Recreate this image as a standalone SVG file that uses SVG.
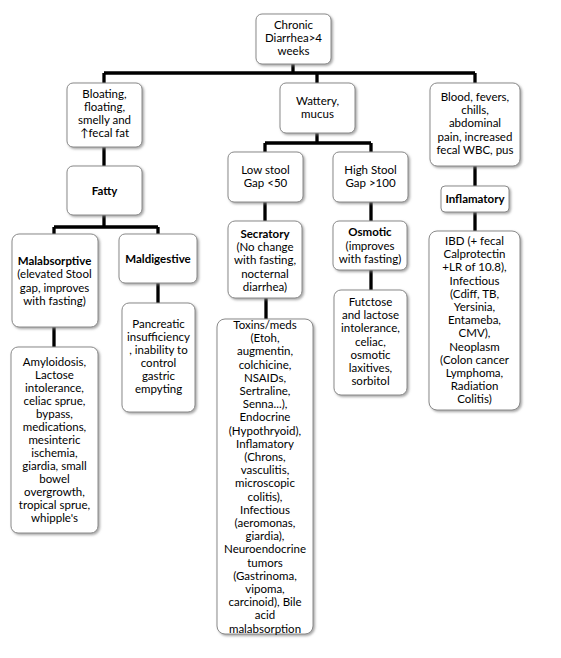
<svg xmlns="http://www.w3.org/2000/svg" width="561" height="658" viewBox="0 0 561 658">
<defs>
<filter id="sh" x="-20%" y="-20%" width="140%" height="140%">
<feDropShadow dx="1.5" dy="1.5" stdDeviation="1.2" flood-color="#808080" flood-opacity="0.7"/>
</filter>
<style>
.box{fill:#fff;stroke:#8a8a8a;stroke-width:1;filter:url(#sh)}
.t{font-family:Lato,"Open Sans","Liberation Sans",sans-serif;font-size:11.5px;fill:#000;text-anchor:middle}
.b{font-weight:bold}
.c{stroke:#000;stroke-width:3.3;fill:none}
</style>
</defs>
<rect width="561" height="658" fill="#fff"/>
<g id="connectors">
<path class="c" d="M293,64V73M104,73H475M104,73V83M317,73V83M475,73V83"/>
<path class="c" d="M104,147V166M104,215V227M54,227H158M54,227V234M158,227V234M54,327V347M158,283V303"/>
<path class="c" d="M317,133V143M265,143H371M265,143V152M371,143V152M265,202V221M266,298V319M371,202V221M371,270V290"/>
<path class="c" d="M475,166V186M475,212V231"/>
</g>
<g id="root"><rect class="box" x="256" y="14" width="75" height="50" rx="6"/>
<text class="t" x="293.5" y="29">Chronic<tspan x="293.5" dy="13">Diarrhea&gt;4</tspan><tspan x="293.5" dy="13">weeks</tspan></text></g>
<g id="bloating"><rect class="box" x="67" y="83" width="75" height="64" rx="6"/>
<text class="t" x="104.5" y="98">Bloating,<tspan x="104.5" dy="13">floating,</tspan><tspan x="104.5" dy="13">smelly and</tspan><tspan x="104.5" dy="13">↑fecal fat</tspan></text></g>
<g id="wattery"><rect class="box" x="280" y="83" width="75" height="50" rx="6"/>
<text class="t" x="317.5" y="105">Wattery,<tspan x="317.5" dy="13">mucus</tspan></text></g>
<g id="blood"><rect class="box" x="430" y="83" width="90" height="83" rx="7"/>
<text class="t" x="475" y="101">Blood, fevers,<tspan x="475" dy="13.2">chills,</tspan><tspan x="475" dy="13.2">abdominal</tspan><tspan x="475" dy="13.2">pain, increased</tspan><tspan x="475" dy="13.2">fecal WBC, pus</tspan></text></g>
<g id="fatty"><rect class="box" x="67" y="166" width="75" height="49" rx="6"/>
<text class="t b" x="104.5" y="194.5">Fatty</text></g>
<g id="lowstool"><rect class="box" x="228" y="152" width="75" height="50" rx="6"/>
<text class="t" x="265.5" y="174">Low stool<tspan x="265.5" dy="13">Gap &lt;50</tspan></text></g>
<g id="highstool"><rect class="box" x="333" y="152" width="75" height="50" rx="6"/>
<text class="t" x="370.5" y="174">High Stool<tspan x="370.5" dy="13">Gap &gt;100</tspan></text></g>
<g id="inflamatory"><rect class="box" x="441" y="186" width="68" height="26" rx="4"/>
<text class="t b" x="475" y="203">Inflamatory</text></g>
<g id="malabsorptive"><rect class="box" x="12" y="234" width="86" height="93" rx="7"/>
<text class="t" x="54.5" y="264.5"><tspan class="b">Malabsorptive</tspan><tspan x="54.5" dy="13.6">(elevated Stool</tspan><tspan x="54.5" dy="13.6">gap, improves</tspan><tspan x="54.5" dy="13.6">with fasting)</tspan></text></g>
<g id="maldigestive"><rect class="box" x="119" y="234" width="78" height="49" rx="6"/>
<text class="t b" x="158" y="263">Maldigestive</text></g>
<g id="amyloidosis"><rect class="box" x="11" y="347" width="87" height="186" rx="7"/>
<text class="t" x="54.5" y="366">Amyloidosis,<tspan x="54.5" dy="13">Lactose</tspan><tspan x="54.5" dy="13">intolerance,</tspan><tspan x="54.5" dy="13">celiac sprue,</tspan><tspan x="54.5" dy="13">bypass,</tspan><tspan x="54.5" dy="13">medications,</tspan><tspan x="54.5" dy="13">mesinteric</tspan><tspan x="54.5" dy="13">ischemia,</tspan><tspan x="54.5" dy="13">giardia, small</tspan><tspan x="54.5" dy="13">bowel</tspan><tspan x="54.5" dy="13">overgrowth,</tspan><tspan x="54.5" dy="13">tropical sprue,</tspan><tspan x="54.5" dy="13">whipple's</tspan></text></g>
<g id="pancreatic"><rect class="box" x="122" y="303" width="73" height="109" rx="7"/>
<text class="t" x="158.5" y="328">Pancreatic<tspan x="158.5" dy="13">insufficiency</tspan><tspan x="158.5" dy="13">, inability to</tspan><tspan x="158.5" dy="13">control</tspan><tspan x="158.5" dy="13">gastric</tspan><tspan x="158.5" dy="13">empyting</tspan></text></g>
<g id="secratory"><rect class="box" x="228" y="221" width="74" height="77" rx="7"/>
<text class="t" x="265" y="238"><tspan class="b">Secratory</tspan><tspan x="265" dy="13.2">(No change</tspan><tspan x="265" dy="13.2">with fasting,</tspan><tspan x="265" dy="13.2">nocternal</tspan><tspan x="265" dy="13.2">diarrhea)</tspan></text></g>
<g id="osmotic"><rect class="box" x="333" y="221" width="74" height="49" rx="6"/>
<text class="t" x="370" y="236"><tspan class="b">Osmotic</tspan><tspan x="370" dy="13.5">(improves</tspan><tspan x="370" dy="13.5">with fasting)</tspan></text></g>
<g id="futctose"><rect class="box" x="334" y="290" width="73" height="105" rx="7"/>
<text class="t" x="370.5" y="306">Futctose<tspan x="370.5" dy="13.2">and lactose</tspan><tspan x="370.5" dy="13.2">intolerance,</tspan><tspan x="370.5" dy="13.2">celiac,</tspan><tspan x="370.5" dy="13.2">osmotic</tspan><tspan x="370.5" dy="13.2">laxitives,</tspan><tspan x="370.5" dy="13.2">sorbitol</tspan></text></g>
<g id="toxins"><rect class="box" x="217" y="319" width="96" height="315" rx="8"/>
<text class="t" x="265" y="329">Toxins/meds<tspan x="265" dy="13.2">(Etoh,</tspan><tspan x="265" dy="13.2">augmentin,</tspan><tspan x="265" dy="13.2">colchicine,</tspan><tspan x="265" dy="13.2">NSAIDs,</tspan><tspan x="265" dy="13.2">Sertraline,</tspan><tspan x="265" dy="13.2">Senna...),</tspan><tspan x="265" dy="13.2">Endocrine</tspan><tspan x="265" dy="13.2">(Hypothryoid),</tspan><tspan x="265" dy="13.2">Inflamatory</tspan><tspan x="265" dy="13.2">(Chrons,</tspan><tspan x="265" dy="13.2">vasculitis,</tspan><tspan x="265" dy="13.2">microscopic</tspan><tspan x="265" dy="13.2">colitis),</tspan><tspan x="265" dy="13.2">Infectious</tspan><tspan x="265" dy="13.2">(aeromonas,</tspan><tspan x="265" dy="13.2">giardia),</tspan><tspan x="265" dy="13.2">Neuroendocrine</tspan><tspan x="265" dy="13.2">tumors</tspan><tspan x="265" dy="13.2">(Gastrinoma,</tspan><tspan x="265" dy="13.2">vipoma,</tspan><tspan x="265" dy="13.2">carcinoid), Bile</tspan><tspan x="265" dy="13.2">acid</tspan><tspan x="265" dy="13.2">malabsorption</tspan></text></g>
<g id="ibd"><rect class="box" x="429" y="231" width="91" height="179" rx="8"/>
<text class="t" x="474.5" y="245">IBD (+ fecal<tspan x="474.5" dy="13.2">Calprotectin</tspan><tspan x="474.5" dy="13.2">+LR of 10.8),</tspan><tspan x="474.5" dy="13.2">Infectious</tspan><tspan x="474.5" dy="13.2">(Cdiff, TB,</tspan><tspan x="474.5" dy="13.2">Yersinia,</tspan><tspan x="474.5" dy="13.2">Entameba,</tspan><tspan x="474.5" dy="13.2">CMV),</tspan><tspan x="474.5" dy="13.2">Neoplasm</tspan><tspan x="474.5" dy="13.2">(Colon cancer</tspan><tspan x="474.5" dy="13.2">Lymphoma,</tspan><tspan x="474.5" dy="13.2">Radiation</tspan><tspan x="474.5" dy="13.2">Colitis)</tspan></text></g>
</svg>
